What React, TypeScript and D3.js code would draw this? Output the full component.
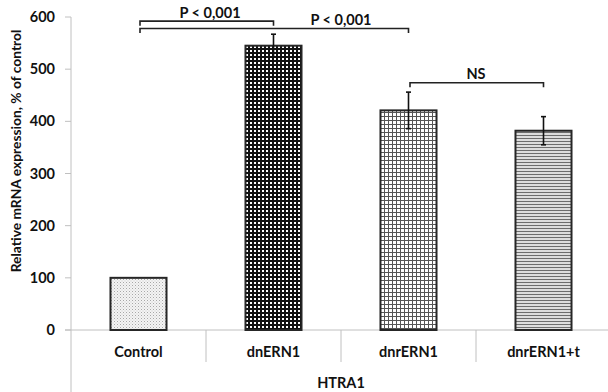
import React from 'react';
import * as d3 from 'd3';

const categories = ['Control', 'dnERN1', 'dnrERN1', 'dnrERN1+t'];
const values = [100, 545, 421, 382];
const errors = [0, 22, 35, 27];
const yTicks = [0, 100, 200, 300, 400, 500, 600];
const patternIds = ['pDots', 'pChecker', 'pGrid', 'pHoriz'];

// significance brackets: from/to are category indexes, level in data units
const bracketFrom = [0, 0, 2];
const bracketTo = [1, 2, 3];
const bracketLevel = [592, 578, 474];
const bracketLabelAt = [0.53, 1.5, 2.5];
const bracketLabels = ['P < 0,001', 'P < 0,001', 'NS'];

const yTitle = 'Relative mRNA expression, % of control';
const xTitle = 'HTRA1';

const width = 608;
const height = 392;
const margin = { top: 17, left: 71, bottom: 62 };
const plotRight = 611;
const font = 'Lato, "Open Sans", sans-serif';
const fs = 14.5;

const App = () => {
  const x = d3.scaleBand()
    .domain(categories)
    .range([margin.left, plotRight])
    .paddingInner(0.585)
    .paddingOuter(0.2925);

  const y = d3.scaleLinear()
    .domain([0, 600])
    .range([height - margin.bottom, margin.top]);

  const y0 = y(0);
  const step = x.step();
  const center = (i: number) => margin.left + step * (i + 0.5);

  return (
    <svg width={width} height={height}
      style={{ position: 'absolute', left: 0, top: 0, background: '#fff' }}
      fontFamily={font} fontWeight={700}>
      <defs>
        <pattern id="pDots" width={3} height={3} patternUnits="userSpaceOnUse">
          <rect width={3} height={3} fill="#f4f4f4" />
          <rect x={0} y={0} width={1} height={1} fill="#a8a8a8" />
          <rect x={1.5} y={1.5} width={1} height={1} fill="#c8c8c8" />
        </pattern>
        <pattern id="pChecker" width={4} height={4} patternUnits="userSpaceOnUse">
          <rect width={4} height={4} fill="#fff" />
          <rect x={0} y={0} width={4} height={2} fill="#111" />
          <rect x={0} y={0} width={2} height={4} fill="#111" />
        </pattern>
        <pattern id="pGrid" width={4} height={4} patternUnits="userSpaceOnUse">
          <rect width={4} height={4} fill="#fff" />
          <rect x={0} y={0} width={4} height={1} fill="#555" />
          <rect x={0} y={0} width={1} height={4} fill="#555" />
        </pattern>
        <pattern id="pHoriz" width={3} height={3} patternUnits="userSpaceOnUse">
          <rect width={3} height={3} fill="#dedede" />
          <rect x={0} y={0} width={3} height={1} fill="#6e6e6e" />
        </pattern>
      </defs>

      {/* y axis */}
      <line x1={margin.left} x2={margin.left} y1={y(600)} y2={height} stroke="#c0c0c0" />
      {yTicks.map(t => (
        <g key={t}>
          <line x1={margin.left - 6} x2={margin.left} y1={y(t)} y2={y(t)} stroke="#c0c0c0" />
          <text x={55} y={y(t) + 5} textAnchor="end" fontSize={fs} fill="#111">{t}</text>
        </g>
      ))}

      {/* x axis */}
      <line x1={margin.left - 6} x2={width} y1={y0} y2={y0} stroke="#c0c0c0" />
      {categories.slice(1).map((c, i) => (
        <line key={c} x1={margin.left + step * (i + 1)} x2={margin.left + step * (i + 1)}
          y1={y0} y2={y0 + 32} stroke="#c0c0c0" />
      ))}
      {categories.map(c => (
        <text key={c} x={(x(c) ?? 0) + x.bandwidth() / 2} y={357} textAnchor="middle"
          fontSize={fs} fill="#111">{c}</text>
      ))}

      {/* bars */}
      {categories.map((c, i) => (
        <rect key={c} x={x(c)} y={y(values[i])} width={x.bandwidth()} height={y0 - y(values[i])}
          fill={`url(#${patternIds[i]})`} stroke="#262626" strokeWidth={2} />
      ))}

      {/* error bars */}
      {categories.map((c, i) => errors[i] > 0 && (
        <g key={c} stroke="#111" strokeWidth={1.6}>
          <line x1={center(i)} x2={center(i)} y1={y(values[i] + errors[i])} y2={y(values[i] - errors[i])} />
          <line x1={center(i) - 2.5} x2={center(i) + 2.5} y1={y(values[i] + errors[i])} y2={y(values[i] + errors[i])} />
          <line x1={center(i) - 2.5} x2={center(i) + 2.5} y1={y(values[i] - errors[i])} y2={y(values[i] - errors[i])} />
        </g>
      ))}

      {/* significance brackets */}
      {bracketLabels.map((lab, k) => {
        const ly = y(bracketLevel[k]);
        const x1 = center(bracketFrom[k]) + 1.5;
        const x2 = center(bracketTo[k]);
        return (
          <g key={k}>
            <path d={`M${x1},${ly + 4.5}V${ly}H${x2}V${ly + 4.5}`} fill="none" stroke="#222" strokeWidth={1.6} />
            <text x={center(bracketLabelAt[k])} y={ly - 3.5} textAnchor="middle" fontSize={fs} fill="#111">{lab}</text>
          </g>
        );
      })}

      {/* titles */}
      <text transform={`translate(21,151) rotate(-90)`} textAnchor="middle" fontSize={13.8} fill="#111">{yTitle}</text>
      <text x={341} y={388} textAnchor="middle" fontSize={fs} fill="#111">{xTitle}</text>
    </svg>
  );
};

export default App;
